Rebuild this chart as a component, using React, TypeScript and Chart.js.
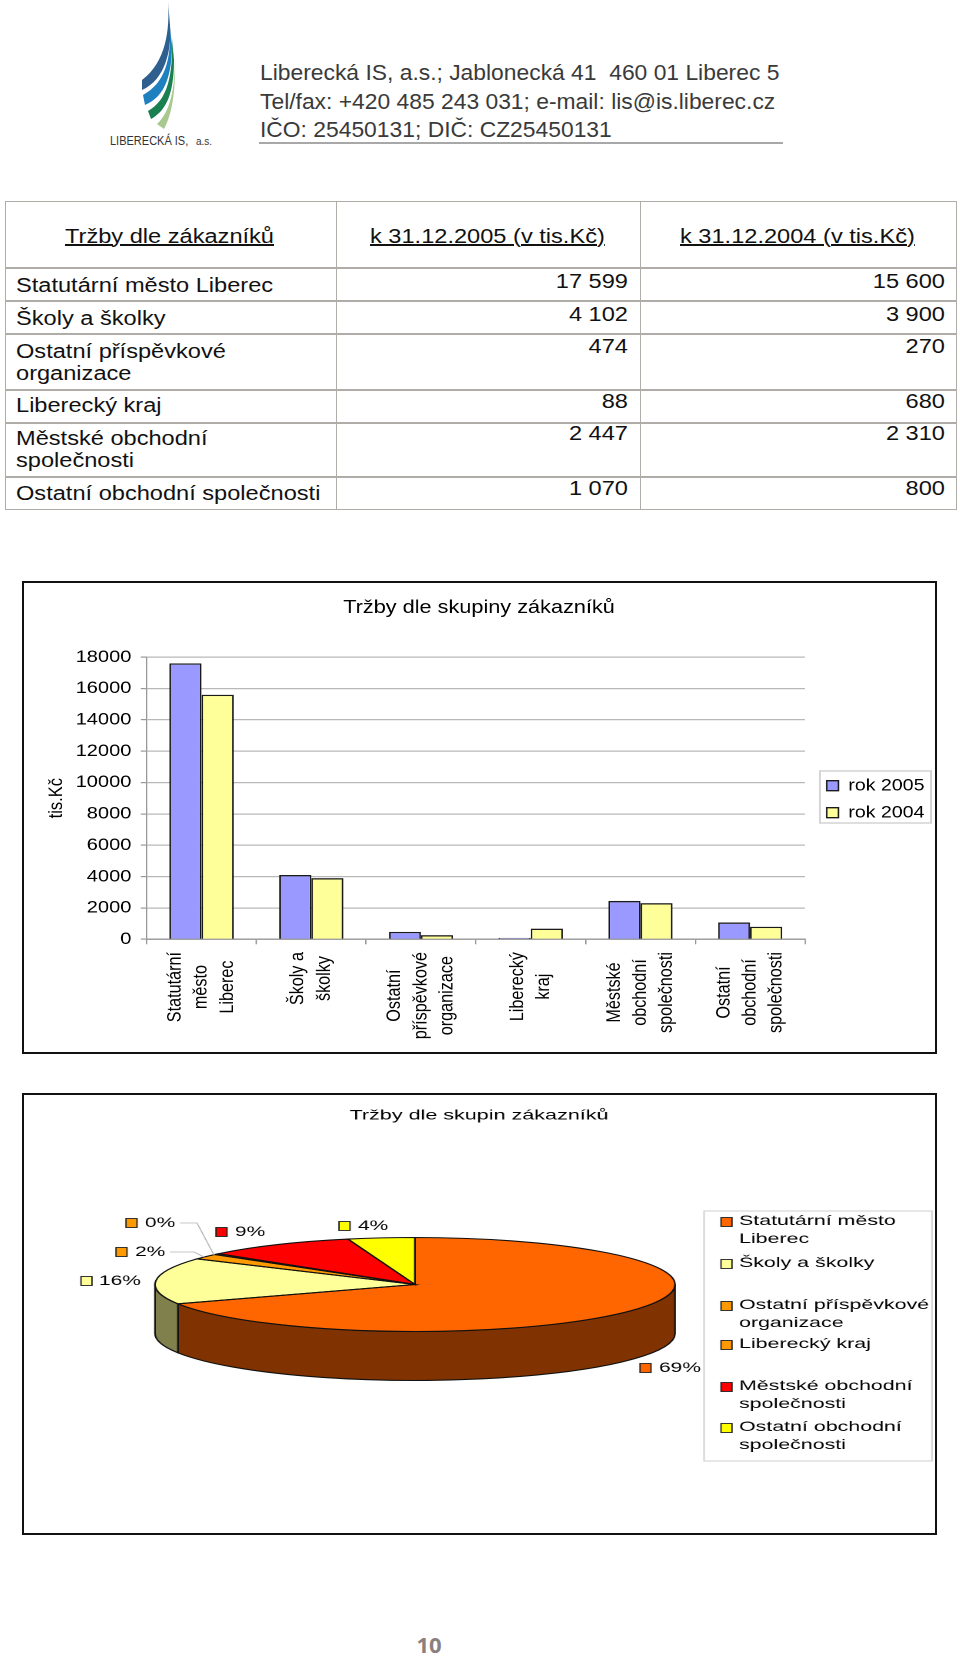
import React, { useEffect, useRef } from "react";
import { Chart, registerables } from "chart.js";

Chart.register(...registerables);

const FONT = '"Liberation Sans", Arial, sans-serif';
Chart.defaults.font.family = FONT;
Chart.defaults.color = "#000";

// ---------- data ----------
const categories = [
  "Statutární město Liberec",
  "Školy a školky",
  "Ostatní příspěvkové organizace",
  "Liberecký kraj",
  "Městské obchodní společnosti",
  "Ostatní obchodní společnosti",
];
const categoryLines = [
  ["Statutární", "město", "Liberec"],
  ["Školy a", "školky"],
  ["Ostatní", "příspěvkové", "organizace"],
  ["Liberecký", "kraj"],
  ["Městské", "obchodní", "společnosti"],
  ["Ostatní", "obchodní", "společnosti"],
];
const values2005 = [17599, 4102, 474, 88, 2447, 1070];
const values2004 = [15600, 3900, 270, 680, 2310, 800];
const tableText2005 = ["17 599", "4 102", "474", "88", "2 447", "1 070"];
const tableText2004 = ["15 600", "3 900", "270", "680", "2 310", "800"];
const piePercentLabels = ["69%", "16%", "2%", "0%", "9%", "4%"];
const pieLegendLines = [
  ["Statutární město", "Liberec"],
  ["Školy a školky"],
  ["Ostatní příspěvkové", "organizace"],
  ["Liberecký kraj"],
  ["Městské obchodní", "společnosti"],
  ["Ostatní obchodní", "společnosti"],
];
const pieColors = ["#FF6600", "#FFFF99", "#FF9900", "#FF9900", "#FF0000", "#FFFF00"];
const pieSideColors = ["#803300", "#80804D", "#804D00", "#804D00", "#800000", "#808000"];

// ---------- layout (page px) ----------
const BOX_L = 22;
const BOX_W = 914;
const BAR_TOP = 582;
const BAR_W = 775;
const BAR_H = 472;
const BAR_SX = BOX_W / BAR_W;
const PIE_TOP = 1094;
const PIE_W = 594;
const PIE_H = 440;
const PIE_SX = BOX_W / PIE_W;
const barX = (x: number) => (x - BOX_L) / BAR_SX;
const pieX = (x: number) => (x - BOX_L) / PIE_SX;
const pieY = (y: number) => y - PIE_TOP;

const PIE_CX = 415;
const PIE_CY = 1284.5;
const PIE_RX = 260;
const PIE_RY = 47;
const PIE_DEPTH = 49;

// swatch x, text x, centre y for the percentage labels
const pieLabelPlaces = [
  [640, 659, 1368],
  [81, 99, 1281],
  [116, 135, 1252],
  [126, 145, 1223],
  [216, 235, 1232],
  [339, 358, 1226],
];
const pieLeaders = [
  null,
  null,
  [[170, 1252], [194, 1252], [204, 1257]],
  [[180, 1223], [197, 1223], [214, 1255]],
  null,
  null,
];
const pieLegendY = [1221, 1263, 1305, 1344, 1386, 1427];

// ---------- plugins ----------
const barPlugin = {
  id: "barExtras",
  beforeLayout(chart: any) {
    const l = chart.legend;
    if (!l.__pinned) {
      l.__pinned = true;
      const fit = l.fit;
      l.fit = function () {
        fit.call(this);
        this.width = BAR_W - barX(805);
      };
    }
  },
  afterLayout(chart: any) {
    const l = chart.legend;
    l.left = barX(826.7) - 10.4;
    l.right = l.left + 100;
    l.top = 185;
    l.bottom = l.top + 70;
  },
  afterDraw(chart: any) {
    const { ctx, scales } = chart;
    const x = scales.x;
    ctx.save();
    ctx.strokeStyle = "#cfcfcf";
    ctx.lineWidth = 1.4;
    ctx.strokeRect(barX(820), 771 - BAR_TOP, barX(931) - barX(820), 52);
    ctx.restore();
    ctx.save();
    ctx.fillStyle = "#000";
    ctx.font = `16.2px ${FONT}`;
    ctx.textAlign = "center";
    ctx.textBaseline = "middle";
    const top = 952 - BAR_TOP;
    const lineStep = 26 / BAR_SX;
    categoryLines.forEach((lines, i) => {
      const cx = x.getPixelForTick(i);
      const maxW = Math.max(...lines.map((s) => ctx.measureText(s).width));
      lines.forEach((s, j) => {
        const px = cx + (j - (lines.length - 1) / 2) * lineStep;
        ctx.save();
        ctx.translate(px, top + maxW / 2);
        ctx.rotate(-Math.PI / 2);
        ctx.fillText(s, 0, 0);
        ctx.restore();
      });
    });
    ctx.restore();
  },
};

function squash(ctx: any, el: any) {
  const k = PIE_RY / el.outerRadius;
  ctx.translate(pieX(PIE_CX), pieY(PIE_CY));
  ctx.scale(1, k);
  ctx.translate(-el.x, -el.y);
}

const piePlugin = {
  id: "pieExtras",
  beforeDatasetsDraw(chart: any) {
    const { ctx } = chart;
    const arcs = chart.getDatasetMeta(0).data;
    ctx.save();
    squash(ctx, arcs[0]);
    const k = PIE_RY / arcs[0].outerRadius;
    const d = PIE_DEPTH / k;
    arcs.forEach((el: any, i: number) => {
      [0, Math.PI * 2, -Math.PI * 2].forEach((off) => {
        const a0 = Math.max(el.startAngle + off, 0);
        const a1 = Math.min(el.endAngle + off, Math.PI);
        if (a1 <= a0) return;
        ctx.beginPath();
        ctx.arc(el.x, el.y, el.outerRadius, a0, a1);
        ctx.arc(el.x, el.y + d, el.outerRadius, a1, a0, true);
        ctx.closePath();
        ctx.fillStyle = pieSideColors[i];
        ctx.fill();
        ctx.restore();
        ctx.lineWidth = 1.1;
        ctx.strokeStyle = "#111";
        ctx.stroke();
        ctx.save();
        squash(ctx, arcs[0]);
      });
    });
  },
  afterDatasetsDraw(chart: any) {
    const { ctx } = chart;
    const arcs = chart.getDatasetMeta(0).data;
    arcs.forEach((el: any) => {
      ctx.beginPath();
      ctx.moveTo(el.x, el.y);
      ctx.arc(el.x, el.y, el.outerRadius, el.startAngle, el.endAngle);
      ctx.closePath();
      ctx.restore();
      ctx.lineWidth = 1.1;
      ctx.strokeStyle = "#111";
      ctx.stroke();
      ctx.save();
      squash(ctx, arcs[0]);
    });
    ctx.restore();
  },
  afterDraw(chart: any) {
    const { ctx } = chart;
    const swatch = (x: number, y: number, c: string) => {
      ctx.fillStyle = c;
      ctx.strokeStyle = "#222";
      ctx.lineWidth = 0.9;
      const w = 11 / PIE_SX;
      ctx.fillRect(pieX(x), pieY(y) - 4.5, w, 9);
      ctx.strokeRect(pieX(x), pieY(y) - 4.5, w, 9);
    };
    ctx.save();
    ctx.textBaseline = "middle";
    ctx.textAlign = "left";
    ctx.font = `13.6px ${FONT}`;
    piePercentLabels.forEach((t, i) => {
      const [sx, tx, y] = pieLabelPlaces[i];
      swatch(sx, y, pieColors[i]);
      ctx.fillStyle = "#000";
      ctx.fillText(t, pieX(tx), pieY(y));
      const lead = pieLeaders[i];
      if (lead) {
        ctx.beginPath();
        lead.forEach(([x, yy]: number[], j: number) =>
          j ? ctx.lineTo(pieX(x), pieY(yy)) : ctx.moveTo(pieX(x), pieY(yy)),
        );
        ctx.strokeStyle = "#b5b5b5";
        ctx.lineWidth = 0.8;
        ctx.stroke();
      }
    });
    ctx.strokeStyle = "#cfcfcf";
    ctx.lineWidth = 1;
    ctx.strokeRect(pieX(704), pieY(1211), pieX(932) - pieX(704), 250);
    ctx.font = `13.9px ${FONT}`;
    pieLegendLines.forEach((lines, i) => {
      swatch(721, pieLegendY[i] + 1, pieColors[i]);
      ctx.fillStyle = "#000";
      lines.forEach((s, j) => ctx.fillText(s, pieX(739), pieY(pieLegendY[i]) + j * 18));
    });
    ctx.restore();
  },
};

// ---------- helpers ----------
function T(props: {
  x: number;
  y: number;
  size: number;
  sx?: number;
  a?: "start" | "end" | "middle";
  color?: string;
  u?: boolean;
  bold?: boolean;
  family?: string;
  children: React.ReactNode;
}) {
  const { x, y, size, sx = 1.18, a = "start", color = "#111", u, bold, family, children } = props;
  const tx = a === "start" ? "0" : a === "end" ? "-100%" : "-50%";
  const origin = a === "start" ? "left" : a === "end" ? "right" : "center";
  return (
    <span
      style={{
        position: "absolute",
        left: x,
        top: y,
        fontFamily: family || FONT,
        fontSize: size,
        fontWeight: bold ? 700 : 400,
        lineHeight: 1,
        whiteSpace: "pre",
        color,
        textDecoration: u ? "underline" : "none",
        transform: `translate(${tx}, -50%) scaleX(${sx})`,
        transformOrigin: `${origin} center`,
      }}
    >
      {children}
    </span>
  );
}

function Line(p: { x: number; y: number; w: number; h: number; c?: string }) {
  return (
    <div
      style={{ position: "absolute", left: p.x, top: p.y, width: p.w, height: p.h, background: p.c || "#b0acA8" }}
    />
  );
}

const rowLines = [201, 267, 300, 333, 389, 422, 476, 509];
const labelRows: [string, number][] = [
  ["Statutární město Liberec", 285],
  ["Školy a školky", 318],
  ["Ostatní příspěvkové", 351],
  ["organizace", 373],
  ["Liberecký kraj", 405],
  ["Městské obchodní", 438],
  ["společnosti", 460],
  ["Ostatní obchodní společnosti", 493],
];
const valueRowY = [281, 314, 346, 401, 433, 488];

export default function App() {
  const barRef = useRef<HTMLCanvasElement>(null);
  const pieRef = useRef<HTMLCanvasElement>(null);

  useEffect(() => {
    const bar = new Chart(barRef.current!, {
      type: "bar",
      data: {
        labels: categories,
        datasets: [
          {
            label: "rok 2005",
            data: values2005,
            backgroundColor: "#9999FF",
            borderColor: "#1a1a1a",
            borderWidth: 1.4,
            categoryPercentage: 0.585,
            barPercentage: 1,
          },
          {
            label: "rok 2004",
            data: values2004,
            backgroundColor: "#FFFF99",
            borderColor: "#1a1a1a",
            borderWidth: 1.4,
            categoryPercentage: 0.585,
            barPercentage: 1,
          },
        ],
      },
      options: {
        responsive: false,
        animation: false,
        devicePixelRatio: 2,
        layout: { padding: 0 },
        plugins: {
          title: {
            display: true,
            text: "Tržby dle skupiny zákazníků",
            font: { size: 18.4, weight: "normal" },
            color: "#000",
            padding: { top: 15, bottom: 38 },
          },
          legend: {
            display: true,
            position: "right",
            align: "start",
            labels: { boxWidth: 10, boxHeight: 10, padding: 10.4, font: { size: 16.6 }, color: "#000" },
          },
          tooltip: { enabled: false },
        },
        scales: {
          y: {
            min: 0,
            max: 18000,
            ticks: {
              stepSize: 2000,
              font: { size: 17 },
              color: "#000",
              padding: 8,
              callback: (v: any) => String(v),
            },
            grid: { color: "#b8b8b8", lineWidth: 1.2, tickLength: 5, tickColor: "#999" },
            border: { color: "#999", width: 1.2 },
            title: {
              display: true,
              text: "tis.Kč",
              font: { size: 16.5 },
              color: "#000",
              padding: { top: 19.5, bottom: 0 },
            },
            afterFit(s: any) {
              s.width = barX(146.7);
            },
          },
          x: {
            ticks: { display: false },
            grid: {
              color: (c: any) => (c.index === categories.length ? "#999" : "rgba(0,0,0,0)"),
              lineWidth: 1.2,
              tickLength: 5,
              tickColor: "#999",
              offset: true,
            },
            border: { color: "#999", width: 1.4 },
            afterFit(s: any) {
              s.height = BAR_H - (939.3 - BAR_TOP);
            },
          },
        },
      } as any,
      plugins: [barPlugin],
    });

    const pie = new Chart(pieRef.current!, {
      type: "pie",
      data: {
        labels: categories,
        datasets: [
          {
            data: values2005,
            backgroundColor: pieColors,
            borderWidth: 0,
            clip: false,
          } as any,
        ],
      },
      options: {
        responsive: false,
        animation: false,
        devicePixelRatio: 2,
        radius: PIE_RX / PIE_SX,
        plugins: {
          title: {
            display: true,
            text: "Tržby dle skupin zákazníků",
            font: { size: 14, weight: "normal" },
            color: "#000",
            padding: { top: 13, bottom: 10 },
          },
          legend: { display: false },
          tooltip: { enabled: false },
        },
      } as any,
      plugins: [piePlugin],
    });

    return () => {
      bar.destroy();
      pie.destroy();
    };
  }, []);

  return (
    <div style={{ position: "absolute", left: 0, top: 0, width: 960, height: 1656, background: "#fff", overflow: "hidden" }}>
      {/* letterhead */}
      <svg width={240} height={150} style={{ position: "absolute", left: 0, top: 0 }}>
        <path d="M168,1 C170,30 166,62 142,80 L142,90 C165,80 172,50 170,25 Z" fill="#2F5F8F" />
        <path d="M170,28 C171,60 165,83 143,95 L145,105 C165,97 172,75 172,45 Z" fill="#1F80BF" />
        <path d="M172,38 C173,75 168,100 148,111 L151,119 C168,110 174,90 174,60 Z" fill="#1A8050" />
        <path d="M175,57 C175,90 170,112 157,124 L164,129 C172,115 176,90 175,57 Z" fill="#A8C890" />
      </svg>
      <T x={110} y={141} size={12.5} sx={0.88} color="#333">LIBERECKÁ IS,</T>
      <T x={196} y={142} size={10} sx={1} color="#333">a.s.</T>
      <T x={260} y={72} size={22.85} sx={1} color="#3a3a3a">Liberecká IS, a.s.; Jablonecká 41  460 01 Liberec 5</T>
      <T x={260} y={100.5} size={22.85} sx={1} color="#3a3a3a">Tel/fax: +420 485 243 031; e-mail: lis@is.liberec.cz</T>
      <T x={260} y={129} size={22.85} sx={1} color="#3a3a3a">IČO: 25450131; DIČ: CZ25450131</T>
      <Line x={259} y={141.5} w={524} h={2} c="#a8a8a8" />

      {/* table */}
      {rowLines.map((y) => (
        <Line key={y} x={5} y={y} w={951} h={y === 201 || y === 509 ? 1.2 : 2} />
      ))}
      <Line x={4.5} y={201} w={1.2} h={309} />
      <Line x={336} y={201} w={1.2} h={309} />
      <Line x={640} y={201} w={1.2} h={309} />
      <Line x={955.5} y={201} w={1.2} h={309} />
      <T x={64.5} y={235.5} size={20} u>Tržby dle zákazníků</T>
      <T x={370} y={235.5} size={20} u>k 31.12.2005 (v tis.Kč)</T>
      <T x={680} y={235.5} size={20} u>k 31.12.2004 (v tis.Kč)</T>
      {labelRows.map(([t, y]) => (
        <T key={t} x={16} y={y} size={20}>{t}</T>
      ))}
      {valueRowY.map((y, i) => (
        <React.Fragment key={y}>
          <T x={628} y={y} size={20} a="end">{tableText2005[i]}</T>
          <T x={945} y={y} size={20} a="end">{tableText2004[i]}</T>
        </React.Fragment>
      ))}

      {/* bar chart */}
      <div style={{ position: "absolute", left: 21.5, top: 581, width: 915, height: 473, border: "2px solid #111", boxSizing: "border-box" }} />
      <canvas
        ref={barRef}
        width={BAR_W}
        height={BAR_H}
        style={{
          position: "absolute",
          left: BOX_L,
          top: BAR_TOP,
          width: BAR_W,
          height: BAR_H,
          transform: `scaleX(${BAR_SX})`,
          transformOrigin: "left top",
        }}
      />

      {/* pie chart */}
      <div style={{ position: "absolute", left: 21.5, top: 1093, width: 915, height: 442, border: "2px solid #111", boxSizing: "border-box" }} />
      <canvas
        ref={pieRef}
        width={PIE_W}
        height={PIE_H}
        style={{
          position: "absolute",
          left: BOX_L,
          top: PIE_TOP,
          width: PIE_W,
          height: PIE_H,
          transform: `scaleX(${PIE_SX})`,
          transformOrigin: "left top",
        }}
      />

      <T x={429} y={1645} size={21} sx={1.05} a="middle" bold color="#8a8080" family='"Open Sans", sans-serif'>10</T>
    </div>
  );
}
